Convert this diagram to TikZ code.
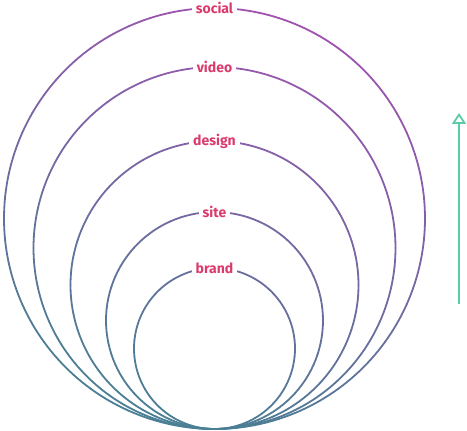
\documentclass[tikz,border=0pt]{standalone}
\usepackage{fontspec}
\setsansfont{Fira Sans}
\usetikzlibrary{arrows.meta}
\definecolor{ringlow}{HTML}{4A7F94}
\definecolor{ringhigh}{HTML}{AA4DB4}
\definecolor{labelred}{HTML}{DB3A6C}
\definecolor{arrowteal}{HTML}{5CCBA9}

\begin{document}
\begin{tikzpicture}[x=1pt, y=1pt, ring/.style={line width=1.8pt, line cap=round},
	every node/.style={font=\sffamily\bfseries\fontsize{14}{16}\selectfont,
	text=labelred, fill=white, inner sep=4pt}]
	\useasboundingbox (0,0) rectangle (467,431);
	\coordinate (touch) at (214.5,2);

	% rings, all touching at the bottom, shaded in short arcs
	\foreach \r/\t in {210.5/social, 181/video, 144/design, 108.5/site, 80.5/brand} {
		\foreach \a in {0,6,...,354} {
			\pgfmathsetmacro{\p}{max(0,min(100,100*(0.88*(\r+\r*sin(\a+3))/424+0.35*\r*cos(\a+3)/424)))}
			\draw[ring, ringhigh!\p!ringlow] ([shift={(\a:\r)}]touch) ++(0,\r) arc (\a:\a+6:\r);
		}
		\node (\t) at ([yshift=2*\r]touch) {\t};
	}

	\coordinate (tail) at (459,127);
	\coordinate (head) at (459,318);
	\draw[arrowteal, line width=1.8pt, -{Triangle[open,width=14pt,length=11pt]}] (tail) -- (head);
\end{tikzpicture}
\end{document}
